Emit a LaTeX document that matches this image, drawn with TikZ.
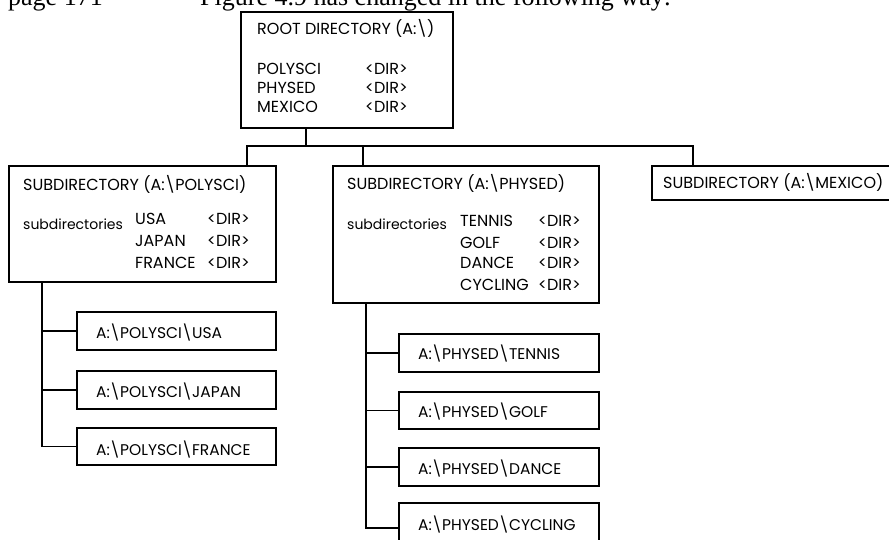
\documentclass[tikz,border=0pt]{standalone}
\usepackage{fontspec}
\setmainfont{Liberation Serif}
\newfontfamily\gfont{Poppins}
\begin{document}
\begin{tikzpicture}[x=1pt,y=-1pt,
  box/.style={draw,line width=1.5pt,rectangle,inner sep=0pt,outer sep=0pt,anchor=north west},
  lbl/.style={anchor=base west,inner sep=0pt,font=\gfont\fontsize{16}{18}\selectfont},
  child/.style={lbl,font=\gfont\fontsize{15.5}{18}\selectfont},
  low/.style={lbl,font=\gfont\fontsize{14}{16}\selectfont},
  head/.style={anchor=base west,inner sep=0pt,font=\fontsize{26}{29}\selectfont},
  wire/.style={line width=1.5pt}]
\useasboundingbox (0,0) rectangle (889,540);
\begin{scope}
\clip (0,0) rectangle (889,540);
% heading (cut at the top)
\node[head] (pg) at (8,6) {page 171};
\node[head] (fig) at (200,6) {Figure 4.9 has changed in the following way:};
% boxes
\node[box,minimum width=212pt,minimum height=116pt] (root) at (241,12) {};
\node[box,minimum width=267pt,minimum height=116pt] (poly) at (9,166) {};
\node[box,minimum width=266pt,minimum height=137pt] (phys) at (333,166) {};
\node[box,minimum width=260pt,minimum height=34pt] (mex) at (652,166) {};
\node[box,minimum width=199pt,minimum height=38pt] (pusa) at (77,312) {};
\node[box,minimum width=199pt,minimum height=38pt] (pjap) at (77,371) {};
\node[box,minimum width=199pt,minimum height=37pt] (pfra) at (77,428) {};
\node[box,minimum width=200pt,minimum height=38pt] (hten) at (399,334) {};
\node[box,minimum width=200pt,minimum height=37pt] (hgol) at (399,392) {};
\node[box,minimum width=200pt,minimum height=38pt] (hdan) at (399,448) {};
\node[box,minimum width=200pt,minimum height=50pt] (hcyc) at (399,503) {};
% root texts
\node[lbl] (rt) at (257,35) {ROOT DIRECTORY (A:\textbackslash)};
\node[lbl] (r1) at (257,75) {POLYSCI};
\node[lbl] (r2) at (257,94) {PHYSED};
\node[lbl] (r3) at (257,113) {MEXICO};
\node[lbl] (r1d) at (365,75) {<DIR>};
\node[lbl] (r2d) at (365,94) {<DIR>};
\node[lbl] (r3d) at (365,113) {<DIR>};
% polysci texts
\node[lbl] (pt) at (23,191) {SUBDIRECTORY (A:\textbackslash POLYSCI)};
\node[low] (ps) at (23,230) {subdirectories};
\node[lbl] (p1) at (135,225) {USA};
\node[lbl] (p2) at (135,247) {JAPAN};
\node[lbl] (p3) at (135,269) {FRANCE};
\node[lbl] (p1d) at (207,225) {<DIR>};
\node[lbl] (p2d) at (207,247) {<DIR>};
\node[lbl] (p3d) at (207,269) {<DIR>};
% physed texts
\node[lbl] (ht) at (347,190) {SUBDIRECTORY (A:\textbackslash PHYSED)};
\node[low] (hs) at (347,230) {subdirectories};
\node[lbl] (h1) at (460,227) {TENNIS};
\node[lbl] (h2) at (460,248) {GOLF};
\node[lbl] (h3) at (460,269) {DANCE};
\node[lbl] (h4) at (460,290) {CYCLING};
\node[lbl] (h1d) at (538,227) {<DIR>};
\node[lbl] (h2d) at (538,248) {<DIR>};
\node[lbl] (h3d) at (538,269) {<DIR>};
\node[lbl] (h4d) at (538,290) {<DIR>};
% mexico text
\node[lbl] (mt) at (663,189) {SUBDIRECTORY (A:\textbackslash MEXICO)};
% child texts
\node[child] (cu) at (96,338) {A:\textbackslash POLYSCI\textbackslash USA};
\node[child] (cj) at (96,397) {A:\textbackslash POLYSCI\textbackslash JAPAN};
\node[child] (cf) at (96,455) {A:\textbackslash POLYSCI\textbackslash FRANCE};
\node[child] (ct) at (418,359) {A:\textbackslash PHYSED\textbackslash TENNIS};
\node[child] (cg) at (418,417) {A:\textbackslash PHYSED\textbackslash GOLF};
\node[child] (cd) at (418,474) {A:\textbackslash PHYSED\textbackslash DANCE};
\node[child] (cc) at (418,530) {A:\textbackslash PHYSED\textbackslash CYCLING};
% connectors
\coordinate (j0) at (306,146);
\coordinate (jl) at (247,146);
\coordinate (jm) at (363,146);
\coordinate (jr) at (693,146);
\draw[wire] (root.south -| j0) -- (j0);
\draw[wire] (poly.north -| jl) -- (jl) -- (jr) -- (mex.north -| jr);
\draw[wire] (jm) -- (phys.north -| jm);
\coordinate (pv) at (42,0);
\draw[wire] (poly.south -| pv) |- (pfra.west);
\draw[wire] (pusa.west -| pv) -- (pusa.west);
\draw[wire] (pjap.west -| pv) -- (pjap.west);
\coordinate (hv) at (366,0);
\draw[wire] (phys.south -| hv) |- (hcyc.west);
\draw[wire] (hten.west -| hv) -- (hten.west);
\draw[wire] (hgol.west -| hv) -- (hgol.west);
\draw[wire] (hdan.west -| hv) -- (hdan.west);
\end{scope}
\end{tikzpicture}
\end{document}
